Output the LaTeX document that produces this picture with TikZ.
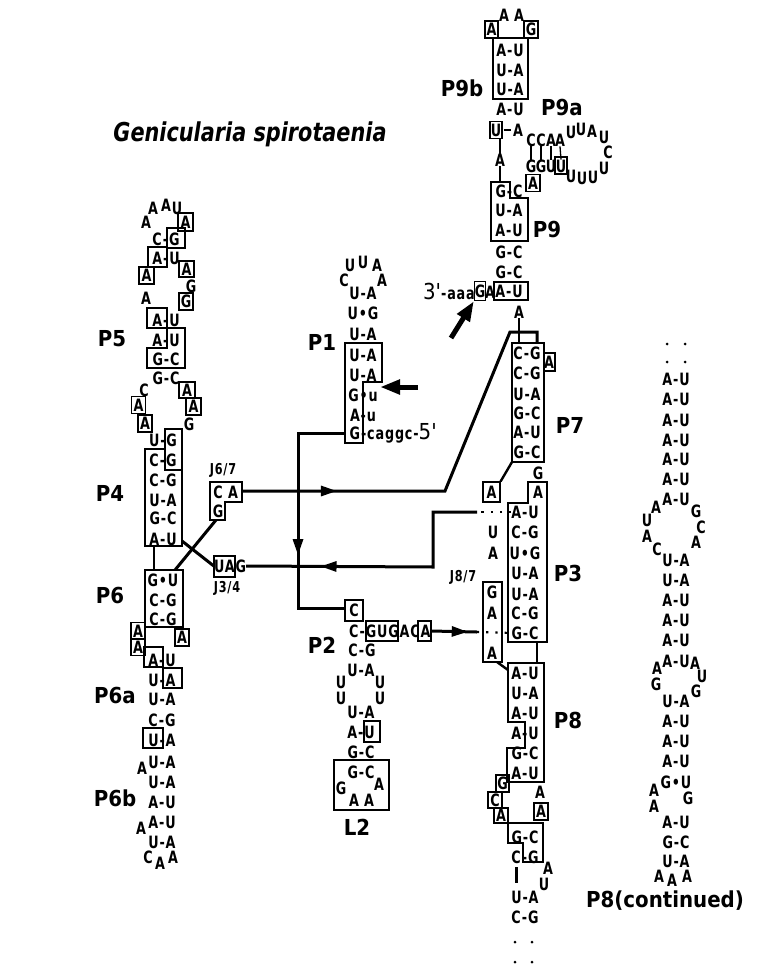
\documentclass[tikz,border=0pt]{standalone}
\usepackage{fontspec}
\usepackage{tikz}
\usetikzlibrary{arrows.meta, decorations.markings}
\newfontfamily\ntfont{DejaVu Sans}[FakeStretch=0.75, LetterSpace=5]
\newfontfamily\lblfont{DejaVu Sans}[FakeStretch=0.9]
\newfontfamily\ttlfont{DejaVu Sans}[FakeStretch=0.8]

\begin{document}
\begin{tikzpicture}[x=1pt, y=-1pt,
  nt/.style={font=\ntfont\bfseries\fontsize{17}{17}\selectfont, inner sep=0pt, text height=12.4pt, text depth=0pt},
  ntbox/.style={nt, draw, line width=1.2pt, minimum width=14pt, minimum height=17pt},
  stem/.style={font=\lblfont\bfseries\fontsize{22}{22}\selectfont, inner sep=0pt, text height=16pt, text depth=0pt},
  junc/.style={font=\ntfont\bfseries\fontsize{15}{15}\selectfont, inner sep=0pt},
  title/.style={font=\ttlfont\bfseries\itshape\fontsize{26}{26}\selectfont, inner sep=0pt, text height=19pt, text depth=0pt},
  boxline/.style={line width=1.2pt},
  bond/.style={line width=1.3pt},
  link/.style={line width=3pt},
  dotbond/.style={line width=2.2pt, dash pattern=on 2.2pt off 7pt},
  pointer/.style={line width=5pt, -{Triangle[length=20pt, width=14pt]}},
  midarrow/.style={postaction={decorate}, decoration={markings, mark=at position #1 with {\arrow{Triangle[length=16pt, width=10pt]}}}}
]
\useasboundingbox (0,0) rectangle (767,966);

\node[title] (title) at (250,132) {Genicularia spirotaenia};

\node[nt] (l9b1) at (504,15) {A};
\node[nt] (l9b2) at (519,15) {A};
\node[ntbox, minimum width=13pt] (l9b0) at (491.5,29.5) {A};
\node[ntbox] (l9b3) at (531,29.5) {G};
\draw[boxline] (493,38) rectangle (528,99);
\node[nt] (p9b1) at (510,50) {A-U};
\node[nt] (p9b2) at (510,70) {U-A};
\node[nt] (p9b3) at (510,89) {U-A};
\node[nt] (p9b4) at (510,109) {A-U};
\node[ntbox, minimum width=12pt] (p9b5u) at (496,130) {U};
\node[nt] (p9b5a) at (518,130) {A};
\draw[bond, shorten <=1pt, shorten >=2pt] (p9b5u) -- (p9b5a);
\node[stem] (lp9b) at (462,88) {P9b};

\node[nt] (j9s) at (500,160) {A};
\draw[bond] (j9s.north) -- (j9s.north |- p9b5u.south);
\draw[bond] (j9s.south) -- ++(0,15.8);

\draw[boxline] (491,182) -- (510,182) -- (510,198) -- (528,198) -- (528,241) -- (491,241) -- cycle;
\node[nt] (p91) at (509,191) {G-C};
\node[nt] (p92) at (509,210) {U-A};
\node[nt] (p93) at (509,230) {A-U};
\node[nt] (p94) at (509,252) {G-C};
\node[nt] (p95) at (509,272) {G-C};
\node[nt] (p96) at (509,291) {A-U};
\draw[boxline] (494,282) rectangle (528,300);
\node[stem] (lp9) at (547,229) {P9};

\node[stem] (lp9a) at (562,107) {P9a};
\node[nt] (p9a1) at (531,140) {C};
\node[nt] (p9a2) at (541,140) {C};
\node[nt] (p9a3) at (551,140) {A};
\node[nt] (p9a4) at (560,140) {A};
\node[nt] (p9a5) at (531,166) {G};
\node[nt] (p9a6) at (541,166) {G};
\node[nt] (p9a7) at (551,166) {U};
\node[nt] (p9a8) at (561,166) {U};
\draw[boxline] (555,157) rectangle (567,174);
\draw[bond] (p9a1.south) -- (p9a5.north);
\draw[bond] (p9a2.south) -- (p9a6.north);
\draw[bond] (p9a3.south) -- (p9a7.north);
\draw[bond] (p9a4.south) -- (p9a8.north);
\node[nt] (l9a1) at (571,132) {U};
\node[nt] (l9a2) at (581,129) {U};
\node[nt] (l9a3) at (592,131) {A};
\node[nt] (l9a4) at (604,137) {U};
\node[nt] (l9a5) at (608,152) {C};
\node[nt] (l9a6) at (604,168) {U};
\node[nt] (l9a7) at (593,177) {U};
\node[nt] (l9a8) at (582,178) {U};
\node[nt] (l9a9) at (571,176) {U};
\node[ntbox] (l9a0) at (533,183) {A};

\node[nt, anchor=east] (tail3) at (475,293) {{\lblfont\mdseries\fontsize{22}{22}\selectfont 3'}-aaa};
\node[ntbox, minimum width=11pt, minimum height=19pt] (g3) at (480,291) {G};
\node[nt] (a3) at (490,292) {A};
\coordinate (ptr2) at (451,338);
\draw[pointer] (ptr2) -- (g3.south west);

\node[nt] (p97) at (519,312) {A};
\coordinate (p7top) at (519,343);
\draw[bond] (p97.south) -- (p7top);
\coordinate (j67out) at (242,491);
\coordinate (bend1) at (445,491);
\coordinate (bend2) at (510,332);
\coordinate (bend3) at (537,332);
\coordinate (bend4) at (537,343);
\draw[link, midarrow=0.23] (j67out) -- (bend1) -- (bend2) -- (bend3) -- (bend4);

\draw[boxline] (512,343) rectangle (544,462);
\draw[boxline] (544,353) rectangle (555,371);
\node[nt] (p7x) at (549,362) {A};
\node[nt] (p71) at (527,353) {C-G};
\node[nt] (p72) at (527,373) {C-G};
\node[nt] (p73) at (527,394) {U-A};
\node[nt] (p74) at (527,413) {G-C};
\node[nt] (p75) at (527,432) {A-U};
\node[nt] (p76) at (527,452) {G-C};
\node[stem] (lp7) at (570,425) {P7};

\node[ntbox, minimum width=17pt, minimum height=20pt] (j87x) at (491.5,492) {A};
\coordinate (p7bl) at (512,462);
\draw[bond, line width=2.4pt] (p7bl) -- (j87x.north east);
\node[nt] (p3g) at (538,473) {G};
\draw[boxline] (528,482) -- (547,482) -- (547,642) -- (508,642) -- (508,503) -- (528,503) -- cycle;
\node[nt] (p3a) at (538,492) {A};
\node[nt] (p31) at (525,512) {A-U};
\node[nt] (p32) at (525,532) {C-G};
\node[nt] (p33) at (525,553) {U•G};
\node[nt] (p34) at (525,573) {U-A};
\node[nt] (p35) at (525,594) {U-A};
\node[nt] (p36) at (525,613) {C-G};
\node[nt] (p37) at (525,633) {G-C};
\node[nt] (j34u) at (493,532) {U};
\node[nt] (j34a) at (493,553) {A};
\node[stem] (lp3) at (568,573) {P3};

\node[junc] (lj87) at (463,577) {J8/7};
\draw[boxline] (483,582) rectangle (502,662);
\node[nt] (j87g) at (492,592) {G};
\node[nt] (j87a) at (492,613) {A};
\node[nt] (j87b) at (492,653) {A};
\coordinate (j87bot) at (497,662);
\coordinate (p8tl) at (508,670);
\draw[bond, line width=2.4pt] (j87bot) -- (p8tl);

\coordinate (dota) at (477,512);
\coordinate (bend5) at (433,512);
\coordinate (bend6) at (433,567);
\draw[dotbond] (p31.west) -- (dota);

\coordinate (p3bot) at (537,642);
\coordinate (p8top) at (537,663);
\draw[bond, line width=2pt] (p3bot) -- (p8top);
\draw[boxline] (508,663) -- (544,663) -- (544,782) -- (507,782) -- (507,748) -- (525,748) -- (525,722) -- (508,722) -- cycle;
\node[nt] (p81) at (525,673) {A-U};
\node[nt] (p82) at (525,693) {U-A};
\node[nt] (p83) at (525,713) {A-U};
\node[nt] (p84) at (525,733) {A-U};
\node[nt] (p85) at (525,753) {G-C};
\node[nt] (p86) at (525,773) {A-U};
\node[stem] (lp8) at (568,720) {P8};
\node[ntbox, minimum width=13pt] (p8g) at (502.5,783.5) {G};
\node[ntbox, minimum height=16pt] (p8c) at (495,800) {C};
\node[ntbox, minimum height=15pt] (p8a) at (501,815.5) {A};
\node[nt] (p8x) at (540,792) {A};
\node[ntbox] (p8y) at (541,811.5) {A};
\draw[boxline] (508,823) -- (543,823) -- (543,862) -- (523,862) -- (523,843) -- (508,843) -- cycle;
\node[nt] (p87) at (525,837) {G-C};
\node[nt] (p88) at (525,857) {C-G};
\node[nt] (l8a1) at (548,868) {A};
\node[nt] (l8a2) at (544,884) {U};
\coordinate (p8s1) at (516,867);
\coordinate (p8s2) at (516,883);
\draw[link] (p8s1) -- (p8s2);
\node[nt] (p89) at (525,897) {U-A};
\node[nt] (p810) at (525,917) {C-G};
\fill (515,942) circle (1.5pt);
\fill (532,942) circle (1.5pt);
\fill (515,962) circle (1.5pt);
\fill (532,962) circle (1.5pt);

\fill (667,344) circle (1.5pt);
\fill (685,344) circle (1.5pt);
\fill (667,362) circle (1.5pt);
\fill (685,362) circle (1.5pt);
\node[nt] (c1) at (676,379) {A-U};
\node[nt] (c2) at (676,399) {A-U};
\node[nt] (c3) at (676,420) {A-U};
\node[nt] (c4) at (676,440) {A-U};
\node[nt] (c5) at (676,459) {A-U};
\node[nt] (c6) at (676,479) {A-U};
\node[nt] (c7) at (676,499) {A-U};
\node[nt] (lc1) at (656,507) {A};
\node[nt] (lc2) at (647,520) {U};
\node[nt] (lc3) at (647,536) {A};
\node[nt] (lc4) at (657,549) {C};
\node[nt] (lc5) at (696,511) {G};
\node[nt] (lc6) at (701,527) {C};
\node[nt] (lc7) at (696,542) {A};
\node[nt] (c8) at (676,560) {U-A};
\node[nt] (c9) at (676,580) {U-A};
\node[nt] (c10) at (676,600) {A-U};
\node[nt] (c11) at (676,620) {A-U};
\node[nt] (c12) at (676,640) {A-U};
\node[nt] (c13) at (676,661) {A-U};
\node[nt] (lc8) at (657,668) {A};
\node[nt] (lc9) at (656,684) {G};
\node[nt] (lc10) at (695,663) {A};
\node[nt] (lc11) at (702,676) {U};
\node[nt] (lc12) at (696,691) {G};
\node[nt] (c14) at (676,701) {U-A};
\node[nt] (c15) at (676,721) {A-U};
\node[nt] (c16) at (676,741) {A-U};
\node[nt] (c17) at (676,761) {A-U};
\node[nt] (c18) at (676,782) {G•U};
\node[nt] (lc13) at (654,790) {A};
\node[nt] (lc14) at (654,806) {A};
\node[nt] (lc15) at (688,798) {G};
\node[nt] (c19) at (676,822) {A-U};
\node[nt] (c20) at (676,842) {G-C};
\node[nt] (c21) at (676,861) {U-A};
\node[nt] (lc16) at (659,876) {A};
\node[nt] (lc17) at (672,880) {A};
\node[nt] (lc18) at (687,876) {A};
\node[stem] (lp8c) at (665,899) {P8(continued)};

\node[nt] (p11a) at (350,265) {U};
\node[nt] (p11b) at (363,262) {U};
\node[nt] (p11c) at (377,265) {A};
\node[nt] (p11d) at (344,280) {C};
\node[nt] (p11e) at (382,280) {A};
\node[nt] (p11) at (363,293) {U-A};
\node[nt] (p12) at (363,313) {U•G};
\node[nt] (p13) at (363,334) {U-A};
\node[nt] (p14) at (363,355) {U-A};
\node[nt] (p15) at (363,375) {U-A};
\node[nt] (p16) at (363,395) {G•u};
\node[nt] (p17) at (363,415) {A-u};
\node[nt, anchor=west] (p18) at (349.5,433) {G-caggc-{\lblfont\mdseries\fontsize{22}{22}\selectfont 5'}};
\draw[boxline] (345,343) -- (382,343) -- (382,382) -- (363,382) -- (363,443) -- (345,443) -- cycle;
\node[stem] (lp1) at (322,342) {P1};
\coordinate (ptr1a) at (418,387);
\coordinate (ptr1b) at (380,387);
\draw[pointer] (ptr1a) -- (ptr1b);

\node[ntbox, minimum width=18pt, minimum height=21pt] (p2c) at (354,610.5) {C};
\coordinate (p1out) at (345,433);
\coordinate (bend7) at (298,433);
\coordinate (bend8) at (298,608);
\draw[link, midarrow=0.63] (p1out) -- (bend7) -- (bend8) -- (bend8 -| p2c.west);
\node[nt, anchor=west] (p21) at (349,631) {C-GUGACA};
\draw[boxline] (366,621) rectangle (398,641);
\draw[boxline] (418,621) rectangle (431,641);
\coordinate (dotb) at (477,632);
\draw[link, midarrow=0.8] (p21.east) -- (dotb);
\draw[dotbond] (dotb) -- (p37.west);
\node[nt] (p22) at (362,650) {C-G};
\node[stem] (lp2) at (322,645) {P2};
\node[nt] (p23) at (361,670) {U-A};
\node[nt] (l2a) at (341,682) {U};
\node[nt] (l2b) at (341,698) {U};
\node[nt] (l2c) at (380,682) {U};
\node[nt] (l2d) at (380,698) {U};
\node[nt] (p24) at (361,712) {U-A};
\node[nt] (p25) at (361,732) {A-U};
\draw[boxline] (364,721) rectangle (380,742);
\node[nt] (p26) at (361,752) {G-C};
\draw[boxline] (334,760) rectangle (389,810);
\node[nt] (p27) at (361,772) {G-C};
\node[nt] (l2e) at (341,788) {G};
\node[nt] (l2f) at (354,800) {A};
\node[nt] (l2g) at (369,800) {A};
\node[nt] (l2h) at (379,784) {A};
\node[stem] (ll2) at (357,827) {L2};

\node[nt] (l5a1) at (153,208) {A};
\node[nt] (l5a2) at (166,205) {A};
\node[nt] (l5a3) at (177,208) {U};
\node[ntbox, minimum width=15pt, minimum height=18pt] (l5a4) at (185.5,222) {A};
\node[nt] (l5a0) at (146,222) {A};
\node[nt] (p51) at (166,239) {C-G};
\draw[boxline] (167,228) rectangle (185,248);
\node[nt] (p52) at (166,258) {A-U};
\draw[boxline] (148,247) rectangle (167,267);
\node[ntbox, minimum width=15pt] (l5b1) at (146.5,275.5) {A};
\node[ntbox, minimum width=15pt, minimum height=16pt] (l5b2) at (186.5,269) {A};
\node[nt] (l5b3) at (191,286) {G};
\node[ntbox] (l5b4) at (186,301.5) {G};
\node[nt] (l5b0) at (146,298) {A};
\node[nt] (p53) at (166,320) {A-U};
\draw[boxline] (147,308) rectangle (167,328);
\draw[boxline] (167,328) -- (185,328) -- (185,368) -- (147,368) -- (147,348) -- (167,348) -- cycle;
\node[nt] (p54) at (166,340) {A-U};
\node[nt] (p55) at (166,359) {G-C};
\node[stem] (lp5) at (112,338) {P5};
\node[nt] (p56) at (166,378) {G-C};
\node[nt] (l5c1) at (144,390) {C};
\node[ntbox] (l5c2) at (138.5,405) {A};
\node[ntbox] (l5c3) at (145,423.5) {A};
\node[ntbox, minimum width=16pt, minimum height=16pt] (l5c4) at (187,390) {A};
\node[ntbox, minimum width=15pt] (l5c5) at (193.5,406.5) {A};
\node[nt] (l5c6) at (189,424) {G};

\draw[boxline] (145,449) -- (165,449) -- (165,429) -- (182,429) -- (182,546) -- (145,546) -- cycle;
\draw[boxline] (165,449) -- (165,470) -- (182,470);
\node[nt] (p41) at (163,440) {U-G};
\node[nt] (p42) at (163,460) {C-G};
\node[nt] (p43) at (163,480) {C-G};
\node[nt] (p44) at (163,500) {U-A};
\node[nt] (p45) at (163,518) {G-C};
\node[nt] (p46) at (163,539) {A-U};
\node[stem] (lp4) at (110,493) {P4};

\node[junc] (lj67) at (223,470) {J6/7};
\draw[boxline] (210,482) -- (242,482) -- (242,502) -- (225,502) -- (225,520) -- (210,520) -- cycle;
\node[nt] (j67c) at (218,492) {C};
\node[nt] (j67a) at (233,492) {A};
\node[nt] (j67g) at (218,511) {G};

\node[nt] (uag) at (230,566) {UAG};
\draw[boxline] (214,556) rectangle (235,577);
\node[junc] (lj34) at (227,588) {J3/4};
\draw[link, midarrow=0.74] (dota) -- (bend5) -- (bend6) -- (uag.east);

\coordinate (j67bot) at (216,520);
\coordinate (p6tr) at (175,570);
\draw[link] (j67bot) -- (p6tr);
\coordinate (p4br) at (182,541);
\draw[link] (p4br) -- (uag.west);
\coordinate (p4bot) at (154,546);
\coordinate (p6top) at (154,570);
\draw[bond, line width=2.2pt] (p4bot) -- (p6top);

\draw[boxline] (145,570) rectangle (183,627);
\node[nt] (p61) at (163,580) {G•U};
\node[nt] (p62) at (163,600) {C-G};
\node[nt] (p63) at (163,619) {C-G};
\node[stem] (lp6) at (110,595) {P6};
\node[ntbox] (l6a1) at (138,631) {A};
\node[ntbox] (l6a2) at (138,647) {A};
\node[ntbox] (l6a3) at (182,637.5) {A};

\node[nt] (p6a1) at (162,660) {A-U};
\draw[boxline] (144,647) rectangle (163,667);
\node[nt] (p6a2) at (162,680) {U-A};
\draw[boxline] (163,668) rectangle (182,688);
\node[nt] (p6a3) at (162,699) {U-A};
\node[nt] (p6a4) at (162,720) {C-G};
\node[nt] (p6a5) at (162,740) {U-A};
\draw[boxline] (143,728) rectangle (163,748);
\node[stem] (lp6a) at (115,695) {P6a};

\node[nt] (l6b0) at (142,768) {A};
\node[nt] (p6b1) at (162,762) {U-A};
\node[nt] (p6b2) at (162,782) {U-A};
\node[nt] (p6b3) at (162,802) {A-U};
\node[nt] (l6b1) at (141,828) {A};
\node[nt] (p6b4) at (162,822) {A-U};
\node[nt] (p6b5) at (162,842) {U-A};
\node[nt] (l6b2) at (148,857) {C};
\node[nt] (l6b3) at (160,863) {A};
\node[nt] (l6b4) at (173,857) {A};
\node[stem] (lp6b) at (115,798) {P6b};
\end{tikzpicture}
\end{document}
